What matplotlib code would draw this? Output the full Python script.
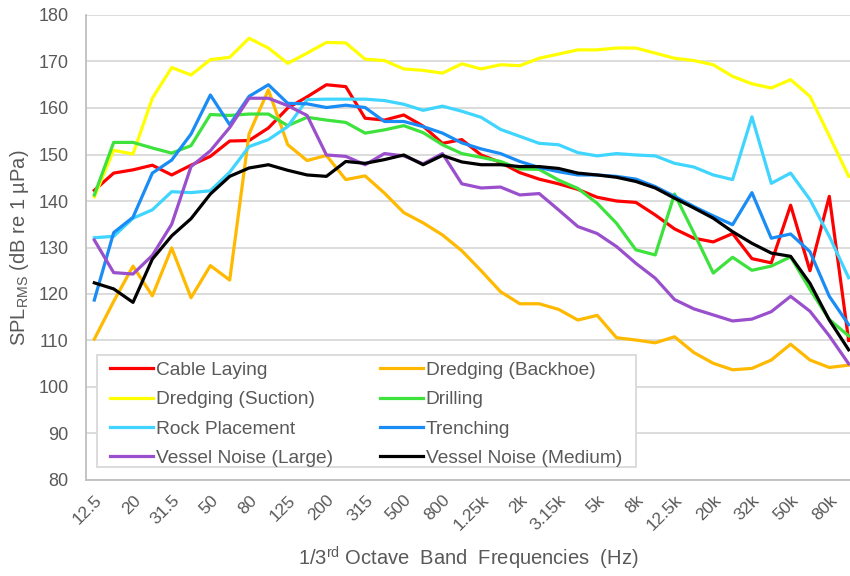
import matplotlib
matplotlib.use("Agg")
import matplotlib.pyplot as plt
from matplotlib.patches import Rectangle
import numpy as np

bands = ['12.5', '16', '20', '25', '31.5', '40', '50', '63', '80', '100',
         '125', '160', '200', '250', '315', '400', '500', '630', '800', '1k',
         '1.25k', '1.6k', '2k', '2.5k', '3.15k', '4k', '5k', '6.3k', '8k', '10k',
         '12.5k', '16k', '20k', '25k', '32k', '40k', '50k', '63k', '80k', '100k']

cable_laying = [142.3, 146.0, 146.7, 147.7, 145.6, 147.7, 149.6, 152.9, 153.0, 155.7,
                160.0, 162.4, 165.0, 164.6, 157.8, 157.4, 158.5, 156.1, 152.4, 153.2,
                149.9, 148.3, 146.1, 144.7, 143.7, 142.5, 140.8, 140.0, 139.7, 137.0,
                134.0, 132.0, 131.2, 133.0, 127.6, 126.7, 139.1, 125.0, 141.0, 110.0]
dredging_backhoe = [110.3, 118.4, 126.0, 119.6, 129.9, 119.2, 126.1, 123.0, 154.4, 163.9,
                    152.1, 148.7, 149.8, 144.6, 145.4, 141.7, 137.5, 135.3, 132.7, 129.3,
                    125.0, 120.5, 117.9, 117.9, 116.7, 114.4, 115.4, 110.6, 110.1, 109.5,
                    110.8, 107.4, 105.1, 103.7, 104.0, 105.8, 109.2, 105.8, 104.2, 104.7]
dredging_suction = [140.9, 150.9, 150.1, 162.1, 168.7, 167.1, 170.4, 170.9, 175.0, 172.9,
                    169.6, 171.8, 174.1, 174.0, 170.5, 170.2, 168.4, 168.1, 167.5, 169.5,
                    168.4, 169.3, 169.1, 170.7, 171.6, 172.5, 172.5, 172.9, 172.9, 171.8,
                    170.7, 170.2, 169.3, 166.8, 165.2, 164.3, 166.1, 162.5, 154.0, 145.3]
drilling = [141.3, 152.6, 152.6, 151.4, 150.3, 151.9, 158.6, 158.4, 158.7, 158.7,
            156.2, 158.0, 157.4, 156.9, 154.6, 155.3, 156.2, 154.7, 152.1, 150.2,
            149.4, 148.5, 146.9, 146.8, 144.5, 142.7, 139.5, 135.2, 129.5, 128.4,
            141.5, 133.1, 124.5, 127.9, 125.1, 126.0, 128.0, 121.0, 114.5, 111.0]
rock_placement = [132.1, 132.4, 136.3, 138.1, 142.0, 141.8, 142.2, 146.2, 151.7, 153.2,
                  156.0, 161.8, 161.9, 161.9, 161.9, 161.6, 160.8, 159.5, 160.4, 159.3,
                  158.0, 155.4, 153.9, 152.4, 152.1, 150.4, 149.7, 150.2, 149.9, 149.7,
                  148.1, 147.3, 145.6, 144.6, 158.1, 143.8, 146.0, 140.3, 132.4, 123.5]
trenching = [118.7, 133.2, 136.5, 146.0, 148.8, 154.4, 162.8, 156.4, 162.5, 165.0,
             161.0, 160.9, 160.1, 160.6, 160.1, 157.1, 157.1, 156.0, 154.6, 152.5,
             151.2, 150.2, 148.5, 147.2, 146.3, 145.6, 145.6, 145.3, 144.7, 143.1,
             141.0, 138.8, 136.8, 134.9, 141.8, 132.0, 132.9, 129.1, 119.5, 113.4]
vessel_large = [131.6, 124.6, 124.3, 128.3, 135.0, 147.4, 150.8, 155.8, 162.1, 162.1,
                160.5, 158.4, 149.9, 149.6, 147.8, 150.2, 149.7, 148.0, 150.2, 143.7,
                142.8, 143.0, 141.3, 141.6, 138.1, 134.5, 133.0, 130.2, 126.6, 123.4,
                118.8, 116.8, 115.5, 114.2, 114.6, 116.2, 119.5, 116.3, 111.0, 105.0]
vessel_medium = [122.4, 121.1, 118.2, 127.5, 132.5, 136.2, 141.5, 145.3, 147.1, 147.8,
                 146.6, 145.6, 145.3, 148.5, 148.1, 148.9, 149.9, 147.8, 149.8, 148.4,
                 147.8, 147.8, 147.4, 147.4, 147.0, 146.0, 145.6, 145.1, 144.2, 142.8,
                 140.6, 138.5, 136.3, 133.4, 130.9, 128.8, 128.1, 122.3, 114.4, 108.0]

series_names = ['Cable Laying', 'Dredging (Backhoe)', 'Dredging (Suction)', 'Drilling',
                'Rock Placement', 'Trenching', 'Vessel Noise (Large)', 'Vessel Noise (Medium)']
series_values = [cable_laying, dredging_backhoe, dredging_suction, drilling,
                 rock_placement, trenching, vessel_large, vessel_medium]
series_colors = ['#FF0000', '#FFB900', '#FFFF00', '#3DE23D',
                 '#3FD5FF', '#1A8CF5', '#9A4FCC', '#000000']

y_ticks = list(range(80, 181, 10))

plt.rcParams['font.family'] = ['Liberation Sans', 'DejaVu Sans']
plt.rcParams['mathtext.fontset'] = 'custom'
plt.rcParams['mathtext.rm'] = 'Liberation Sans'
text_color = '#595959'

fig = plt.figure(figsize=(8.5, 5.76), dpi=100)
ax = fig.add_axes([86 / 850, 1 - 480 / 576, 1 - 86 / 850, (480 - 15) / 576])

x = np.arange(len(bands))
handles = []
for name, vals, col in zip(series_names, series_values, series_colors):
    h, = ax.plot(x, vals, color=col, lw=2.3, label=name, solid_joinstyle='round')
    handles.append(h)

ax.set_xlim(-0.43, 39.07)
ax.set_ylim(80, 180)
ax.set_yticks(y_ticks)
ax.set_yticklabels([str(v) for v in y_ticks], fontsize=13, color=text_color)
ax.set_xticks(x[::2])
ax.set_xticklabels(bands[::2], rotation=45, ha='right', rotation_mode='anchor',
                   fontsize=12.5, color=text_color)
ax.tick_params(axis='y', length=0, pad=12.5)
ax.tick_params(axis='x', length=0, pad=9)
ax.grid(axis='y', color='#d9d9d9', lw=1.3)
ax.set_axisbelow(True)
for s in ['top', 'right']:
    ax.spines[s].set_visible(False)
for s in ['left', 'bottom']:
    ax.spines[s].set_color('#bfbfbf')
    ax.spines[s].set_linewidth(1.3)

ax.set_ylabel(r'SPL$_{\mathregular{RMS}}$ (dB re 1 µPa)', fontsize=14.5, color=text_color, labelpad=5)
ax.set_xlabel(r'1/3$^{\mathregular{rd}}$ Octave  Band  Frequencies  (Hz)', fontsize=14.5,
              color=text_color, labelpad=8)

# legend frame
ax.add_patch(Rectangle((97 / 850, 1 - 467 / 576), (636 - 97) / 850, (467 - 355) / 576,
                       transform=fig.transFigure, facecolor='white', edgecolor='#d9d9d9',
                       lw=1.3, zorder=4.5, clip_on=False))

order = [0, 2, 4, 6, 1, 3, 5, 7]
leg = ax.legend([handles[i] for i in order], [series_names[i] for i in order],
                ncol=2, loc='upper left', bbox_to_anchor=(110 / 850, 1 - 361.5 / 576),
                bbox_transform=fig.transFigure, fontsize=13.8, frameon=False,
                handlelength=2.24, handletextpad=0.15, columnspacing=2.45,
                labelspacing=0.62, borderpad=0, borderaxespad=0)
leg.set_zorder(5)
for t in leg.get_texts():
    t.set_color(text_color)

fig.savefig('out.png', dpi=100)
